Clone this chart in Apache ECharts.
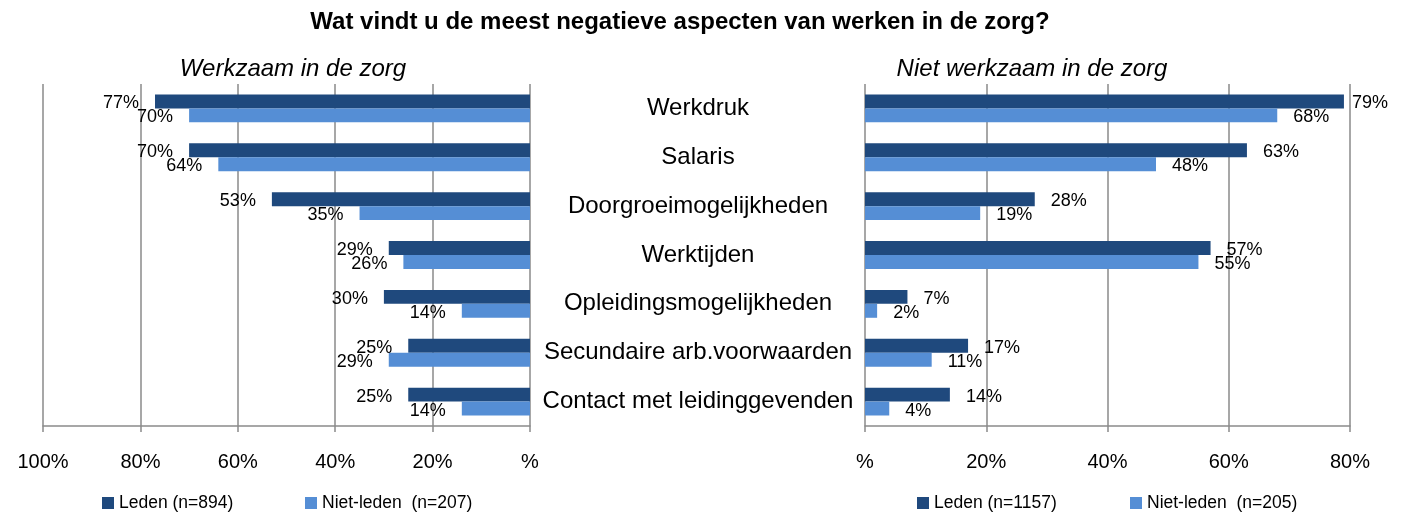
<!DOCTYPE html>
<html>
<head>
<meta charset="utf-8">
<script src="https://cdn.jsdelivr.net/npm/echarts@6.0.0/dist/echarts.min.js"></script>
<style>
  html, body { margin: 0; padding: 0; background: #fff; }
  #chart { width: 1403px; height: 513px; }
</style>
</head>
<body>
<div id="chart"></div>
<script>
// data
const categories = ['Werkdruk', 'Salaris', 'Doorgroeimogelijkheden', 'Werktijden',
  'Opleidingsmogelijkheden', 'Secundaire arb.voorwaarden', 'Contact met leidinggevenden']
const zorgLeden = [77, 70, 53, 29, 30, 25, 25]
const zorgNietLeden = [70, 64, 35, 26, 14, 29, 14]
const nietZorgLeden = [79, 63, 28, 57, 7, 17, 14]
const nietZorgNietLeden = [68, 48, 19, 55, 2, 11, 4]
const leftTicks = [0, 20, 40, 60, 80, 100]
const rightTicks = [0, 20, 40, 60, 80]

const dark = '#1F497D'
const light = '#558ED5'
const gridColor = '#8a8a8a'
const font = "'Liberation Sans', Arial, sans-serif"

const pct = v => (v === 0 ? '%' : v + '%')

const valueAxis = (gridIndex, ticks, inverse) => ({
  type: 'value',
  gridIndex,
  min: ticks[0],
  max: ticks[ticks.length - 1],
  interval: 20,
  inverse,
  axisLine: { show: true, lineStyle: { color: gridColor, width: 1.5 } },
  axisTick: { show: true, length: 6, lineStyle: { color: gridColor, width: 1.5 } },
  splitLine: { show: true, lineStyle: { color: gridColor, width: 1.5 } },
  axisLabel: { formatter: pct, fontSize: 20, color: '#000', fontFamily: font, margin: 26 }
})

const catAxis = (gridIndex, showLabel) => ({
  type: 'category',
  gridIndex,
  data: categories,
  inverse: true,
  axisLine: { show: false },
  axisTick: { show: false },
  axisLabel: {
    show: showLabel,
    interval: 0,
    margin: 167,
    align: 'center',
    fontSize: 24,
    color: '#000',
    fontFamily: font
  }
})

const barSeries = (name, data, color, idx, pos) => ({
  name,
  type: 'bar',
  xAxisIndex: idx,
  yAxisIndex: idx,
  data,
  barGap: '0%',
  barCategoryGap: '43%',
  itemStyle: { color },
  label: {
    show: true,
    position: pos,
    distance: 16,
    offset: [0, 2],
    formatter: '{c}%',
    fontSize: 18,
    color: '#000',
    fontFamily: font
  }
})

const legendAt = (name, left) => ({
  data: [name],
  left,
  top: 494,
  padding: 0,
  icon: 'rect',
  itemWidth: 12,
  itemHeight: 12,
  textStyle: { fontSize: 17.5, color: '#000', fontFamily: font }
})

const chart = echarts.init(document.getElementById('chart'))
chart.setOption({
  animation: false,
  title: [
    { text: 'Wat vindt u de meest negatieve aspecten van werken in de zorg?', left: 675, top: 5, textAlign: 'center',
      textStyle: { fontSize: 24, fontWeight: 'bold', color: '#000', fontFamily: font } },
    { text: 'Werkzaam in de zorg', left: 288, top: 52, textAlign: 'center',
      textStyle: { fontSize: 24, fontStyle: 'italic', fontWeight: 'normal', color: '#000', fontFamily: font } },
    { text: 'Niet werkzaam in de zorg', left: 1027, top: 52, textAlign: 'center',
      textStyle: { fontSize: 24, fontStyle: 'italic', fontWeight: 'normal', color: '#000', fontFamily: font } }
  ],
  legend: [
    legendAt('Leden (n=894)', 102),
    legendAt('Niet-leden  (n=207)', 305),
    legendAt('Leden (n=1157)', 917),
    legendAt('Niet-leden  (n=205)', 1130)
  ],
  grid: [
    { left: 43, right: 873, top: 84, height: 342 },
    { left: 865, right: 53, top: 84, height: 342 }
  ],
  xAxis: [valueAxis(0, leftTicks, true), valueAxis(1, rightTicks, false)],
  yAxis: [catAxis(0, false), catAxis(1, true)],
  series: [
    barSeries('Leden (n=894)', zorgLeden, dark, 0, 'left'),
    barSeries('Niet-leden  (n=207)', zorgNietLeden, light, 0, 'left'),
    barSeries('Leden (n=1157)', nietZorgLeden.map((v, i) => (i === 0 ? { value: v, label: { distance: 8 } } : v)), dark, 1, 'right'),
    barSeries('Niet-leden  (n=205)', nietZorgNietLeden, light, 1, 'right')
  ]
})
</script>
</body>
</html>
